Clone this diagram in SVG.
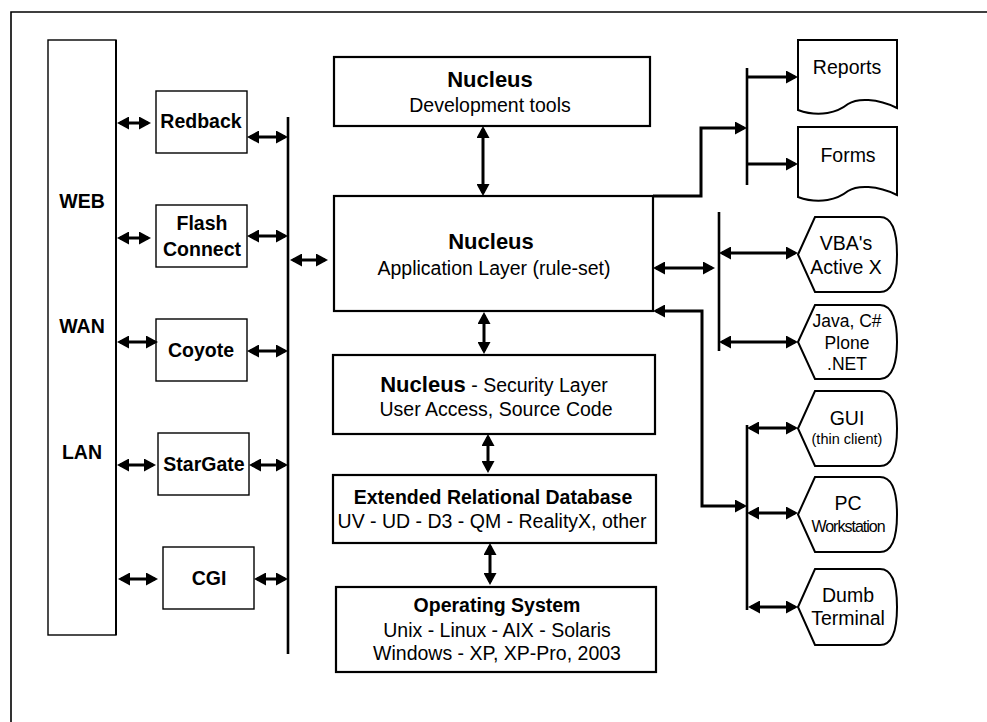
<svg xmlns="http://www.w3.org/2000/svg" width="987" height="722" viewBox="0 0 987 722">
<defs>
<marker id="ah" markerUnits="userSpaceOnUse" markerWidth="12" markerHeight="13" viewBox="0 0 12 13" refX="9" refY="6.5" orient="auto-start-reverse">
<path d="M0,0 L12,6.5 L0,13 Z" fill="#000"/>
</marker>
<style>
text{font-family:"Liberation Sans",Arial,sans-serif;fill:#000;text-anchor:middle}
.b{font-weight:bold;font-size:19.5px}
.r{font-size:19.5px}
.n{font-weight:bold;font-size:22px}
.box{fill:#fff;stroke:#000;stroke-width:1.4}
.cbox{fill:#fff;stroke:#000;stroke-width:2.2}
.shape{fill:#fff;stroke:#000;stroke-width:2}
.bus{stroke:#000;stroke-width:2.6;fill:none}
.c{stroke:#000;stroke-width:3;fill:none}
.d{marker-start:url(#ah);marker-end:url(#ah)}
.e{marker-end:url(#ah)}
</style>
</defs>
<rect width="987" height="722" fill="#fff"/>
<path d="M11,722 V12 H987" fill="none" stroke="#000" stroke-width="1.6"/>

<g id="network">
<rect x="48" y="40" width="68" height="595" class="box"/>
<line x1="116" y1="40" x2="116" y2="635" stroke="#000" stroke-width="2"/>
<text x="82" y="208" class="b">WEB</text>
<text x="82" y="333" class="b">WAN</text>
<text x="82" y="459" class="b">LAN</text>
</g>
<g id="redback"><rect x="156" y="91" width="91" height="62" class="box"/><text x="201" y="128" class="b">Redback</text></g>
<g id="flash"><rect x="156" y="205" width="91" height="62" class="box"/><text x="202" y="230" class="b">Flash</text><text x="202" y="256" class="b">Connect</text></g>
<g id="coyote"><rect x="156" y="319" width="91" height="62" class="box"/><text x="201" y="357" class="b">Coyote</text></g>
<g id="stargate"><rect x="158" y="433" width="91" height="62" class="box"/><text x="204" y="471" class="b">StarGate</text></g>
<g id="cgi"><rect x="163" y="547" width="91" height="62" class="box"/><text x="209" y="585" class="b">CGI</text></g>

<g id="devtools"><rect x="334" y="57" width="316" height="69" class="cbox"/><text x="490" y="87" class="n">Nucleus</text><text x="490" y="112" class="r">Development tools</text></g>
<g id="applayer"><rect x="334" y="196" width="319" height="115" class="cbox"/><text x="491" y="249" class="n">Nucleus</text><text x="494" y="275" class="r">Application Layer (rule-set)</text></g>
<g id="security"><rect x="333" y="355" width="322" height="79" class="cbox"/><text x="494" y="392" class="r"><tspan class="n">Nucleus</tspan> - Security Layer</text><text x="496" y="416" class="r">User Access, Source Code</text></g>
<g id="database"><rect x="333" y="475" width="323" height="68" class="cbox"/><text x="493" y="504" class="b">Extended Relational Database</text><text x="492" y="528" class="r">UV - UD - D3 - QM - RealityX, other</text></g>
<g id="os"><rect x="336" y="587" width="320" height="85" class="cbox"/><text x="497" y="612" class="b">Operating System</text><text x="497" y="637" class="r">Unix - Linux - AIX - Solaris</text><text x="497" y="660" class="r">Windows - XP, XP-Pro, 2003</text></g>

<g id="reports"><path d="M798,40 H897 V108 C877,98 857,98 848,104 C838,112 820,118 798,110 Z" class="shape"/><text x="847" y="74" class="r">Reports</text></g>
<g id="forms"><path d="M798,127 H897 V195 C877,185 857,185 848,191 C838,199 820,205 798,197 Z" class="shape"/><text x="848" y="162" class="r">Forms</text></g>
<g id="vba"><path d="M798,254.5 L815,217 H880 C893,217 897,235 897,254.5 C897,274 893,292 880,292 H815 Z" class="shape"/><text x="846" y="250" class="r">VBA's</text><text x="846" y="274" class="r">Active X</text></g>
<g id="java"><path d="M798,342 L815,305 H880 C893,305 897,323 897,342 C897,361 893,379 880,379 H815 Z" class="shape"/><text x="847" y="327" style="font-size:17.5px">Java, C#</text><text x="847" y="349" style="font-size:17.5px">Plone</text><text x="847" y="370" style="font-size:17.5px">.NET</text></g>
<g id="gui"><path d="M798,428.5 L815,391 H880 C893,391 897,409 897,428.5 C897,448 893,466 880,466 H815 Z" class="shape"/><text x="847" y="425" class="r">GUI</text><text x="847" y="444" style="font-size:14.5px">(thin client)</text></g>
<g id="pc"><path d="M798,514.5 L815,477 H880 C893,477 897,495 897,514.5 C897,534 893,552 880,552 H815 Z" class="shape"/><text x="848" y="510" class="r">PC</text><text x="848" y="532" style="font-size:16px;letter-spacing:-1px">Workstation</text></g>
<g id="dumb"><path d="M798,607 L815,569 H880 C893,569 897,587 897,607 C897,627 893,645 880,645 H815 Z" class="shape"/><text x="848" y="602" class="r">Dumb</text><text x="848" y="625" class="r">Terminal</text></g>

<g id="connectors">
<line x1="288" y1="117" x2="288" y2="654" class="bus"/>
<line x1="120" y1="123" x2="148" y2="123" class="c d"/>
<line x1="250" y1="137" x2="285" y2="137" class="c d"/>
<line x1="120" y1="238" x2="148" y2="238" class="c d"/>
<line x1="250" y1="236" x2="285" y2="236" class="c d"/>
<line x1="120" y1="342" x2="155" y2="342" class="c d"/>
<line x1="250" y1="351" x2="285" y2="351" class="c d"/>
<line x1="120" y1="465" x2="153" y2="465" class="c d"/>
<line x1="252" y1="465" x2="285" y2="465" class="c d"/>
<line x1="121" y1="579" x2="155" y2="579" class="c d"/>
<line x1="257" y1="579" x2="285" y2="579" class="c d"/>
<line x1="293" y1="260" x2="325" y2="260" class="c d"/>
<line x1="483" y1="129" x2="483" y2="193" class="c d"/>
<line x1="484" y1="315" x2="484" y2="351" class="c d"/>
<line x1="488" y1="437" x2="488" y2="470" class="c d"/>
<line x1="490" y1="546" x2="490" y2="582" class="c d"/>
<line x1="747" y1="68" x2="747" y2="185" class="bus"/>
<path d="M653,196 H701 V128 H744" class="c e"/>
<line x1="747" y1="77" x2="795" y2="77" class="c e"/>
<line x1="747" y1="164" x2="795" y2="164" class="c e"/>
<line x1="719" y1="212" x2="719" y2="351" class="bus"/>
<line x1="656" y1="268" x2="712" y2="268" class="c d"/>
<line x1="722" y1="253" x2="795" y2="253" class="c d"/>
<line x1="722" y1="342" x2="795" y2="342" class="c d"/>
<line x1="747" y1="425" x2="747" y2="610" class="bus"/>
<path d="M656,311 H702 V506 H744" class="c d"/>
<line x1="750" y1="428" x2="795" y2="428" class="c d"/>
<line x1="750" y1="513" x2="795" y2="513" class="c d"/>
<line x1="751" y1="607" x2="795" y2="607" class="c d"/>
</g>
</svg>
